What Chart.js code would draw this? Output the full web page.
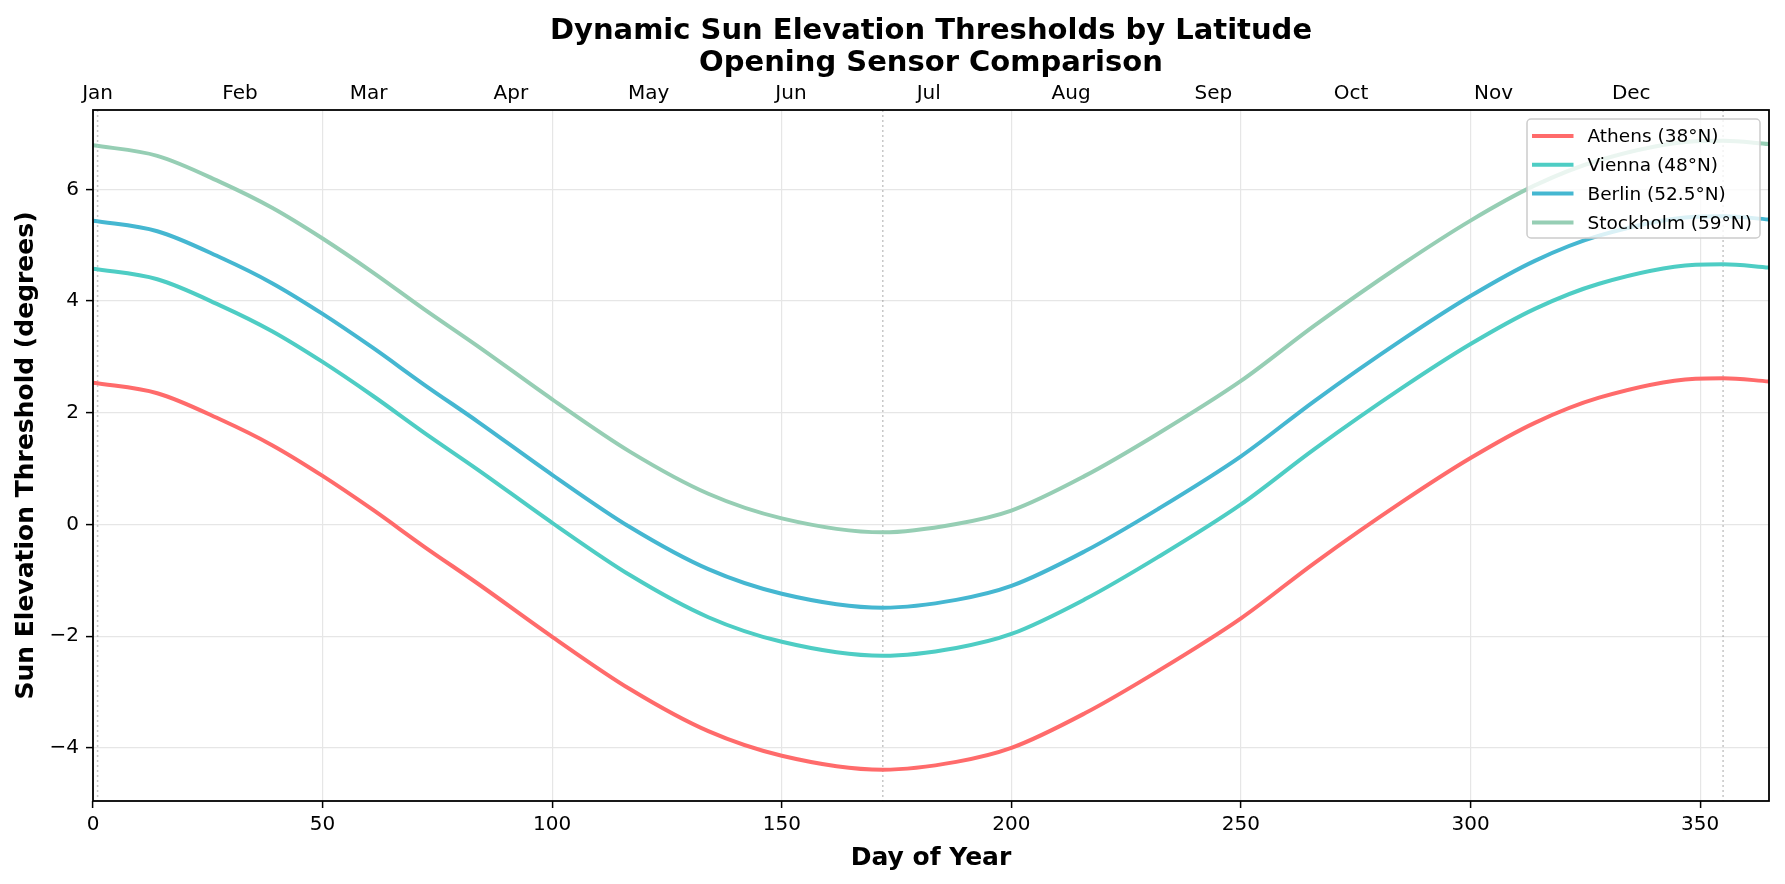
<!DOCTYPE html>
<html>
<head>
<meta charset="utf-8">
<title>Sun Elevation Thresholds</title>
<script src="https://cdn.jsdelivr.net/npm/chart.js@4.4.0/dist/chart.umd.min.js"></script>
<style>
    html, body { margin: 0; padding: 0; background: #fff; }
</style>
</head>
<body>
<canvas id="sunChart" width="1785" height="884"></canvas>
<script>
// day of year sampled from the curves
var days = [0, 14, 28, 39, 50, 61, 72, 84, 100, 117, 134, 150, 172, 188, 200, 216, 232, 250, 266, 285, 300, 314, 328, 349, 355, 365];

var athens    = [2.54, 2.35, 1.87, 1.42, 0.87, 0.26, -0.39, -1.07, -2.01, -2.95, -3.70, -4.14, -4.39, -4.25, -4.00, -3.38, -2.62, -1.68, -0.69, 0.40, 1.19, 1.82, 2.27, 2.61, 2.62, 2.56];
var vienna    = [4.58, 4.39, 3.91, 3.46, 2.91, 2.30, 1.65, 0.97, 0.03, -0.91, -1.66, -2.10, -2.35, -2.21, -1.96, -1.34, -0.58, 0.36, 1.35, 2.44, 3.23, 3.86, 4.31, 4.65, 4.66, 4.60];
var berlin    = [5.44, 5.25, 4.77, 4.32, 3.77, 3.16, 2.51, 1.83, 0.89, -0.05, -0.80, -1.24, -1.49, -1.35, -1.10, -0.48, 0.28, 1.22, 2.21, 3.30, 4.09, 4.72, 5.17, 5.51, 5.52, 5.46];
var stockholm = [6.79, 6.60, 6.12, 5.67, 5.12, 4.51, 3.86, 3.18, 2.24, 1.30, 0.55, 0.11, -0.14, 0.01, 0.25, 0.87, 1.63, 2.57, 3.56, 4.65, 5.44, 6.07, 6.52, 6.86, 6.87, 6.81];

var cityLabels = ['Athens (38°N)', 'Vienna (48°N)', 'Berlin (52.5°N)', 'Stockholm (59°N)'];
var cityColors = ['#FF6B6B', '#4ECDC4', '#45B7D1', '#96CEB4'];

// top axis
var monthDays = [1, 32, 60, 91, 121, 152, 182, 213, 244, 274, 305, 335];
var monthNames = ['Jan', 'Feb', 'Mar', 'Apr', 'May', 'Jun', 'Jul', 'Aug', 'Sep', 'Oct', 'Nov', 'Dec'];

// dotted reference lines
var markerDays = [1, 172, 355];

Chart.defaults.font.family = 'DejaVu Sans';
Chart.defaults.color = '#000';

function toPoints(values) {
    return days.map(function(d, i) { return { x: d, y: values[i] }; });
}

var series = [athens, vienna, berlin, stockholm];
var datasets = series.map(function(vals, i) {
    return {
        label: cityLabels[i],
        data: toPoints(vals),
        borderColor: cityColors[i],
        backgroundColor: cityColors[i],
        borderWidth: 4,
        pointRadius: 0,
        fill: false,
        cubicInterpolationMode: 'monotone'
    };
});

var markerPlugin = {
    id: 'markers',
    beforeDatasetsDraw: function(chart) {
        var ctx = chart.ctx, area = chart.chartArea, xs = chart.scales.x;
        ctx.save();
        ctx.strokeStyle = 'rgba(128,128,128,0.45)';
        ctx.lineWidth = 1.5;
        ctx.setLineDash([2, 3]);
        markerDays.forEach(function(d) {
            var px = xs.getPixelForValue(d);
            ctx.beginPath();
            ctx.moveTo(px, area.top);
            ctx.lineTo(px, area.bottom);
            ctx.stroke();
        });
        ctx.restore();
    }
};

function roundBox(ctx, x, y, w, h, r) {
    ctx.beginPath();
    ctx.moveTo(x + r, y);
    ctx.lineTo(x + w - r, y);
    ctx.arcTo(x + w, y, x + w, y + r, r);
    ctx.lineTo(x + w, y + h - r);
    ctx.arcTo(x + w, y + h, x + w - r, y + h, r);
    ctx.lineTo(x + r, y + h);
    ctx.arcTo(x, y + h, x, y + h - r, r);
    ctx.lineTo(x, y + r);
    ctx.arcTo(x, y, x + r, y, r);
    ctx.closePath();
}

// frame + legend box drawn over the lines
var framePlugin = {
    id: 'frameLegend',
    afterDatasetsDraw: function(chart) {
        var ctx = chart.ctx, area = chart.chartArea;
        ctx.save();
        ctx.strokeStyle = '#000';
        ctx.lineWidth = 1.8;
        ctx.strokeRect(area.left, area.top, area.right - area.left, area.bottom - area.top);

        var boxW = 233, boxH = 119;
        var bx = area.right - 9 - boxW, by = area.top + 9;
        roundBox(ctx, bx, by, boxW, boxH, 4);
        ctx.fillStyle = 'rgba(255,255,255,0.8)';
        ctx.fill();
        ctx.strokeStyle = '#cccccc';
        ctx.lineWidth = 1.5;
        ctx.stroke();

        ctx.font = '18.5px "DejaVu Sans"';
        ctx.textBaseline = 'middle';
        ctx.textAlign = 'left';
        chart.data.datasets.forEach(function(ds, i) {
            var y = by + 17 + i * 28.8;
            ctx.strokeStyle = ds.borderColor;
            ctx.lineWidth = 4;
            ctx.beginPath();
            ctx.moveTo(bx + 5, y);
            ctx.lineTo(bx + 46.5, y);
            ctx.stroke();
            ctx.fillStyle = '#000';
            ctx.fillText(ds.label, bx + 60.5, y + 1.3);
        });
        ctx.restore();
    }
};

var ctx = document.getElementById('sunChart').getContext('2d');

var sunChart = new Chart(ctx, {
    type: 'line',
    data: { datasets: datasets },
    options: {
        responsive: false,
        animation: false,
        layout: { padding: { left: 0, right: 16, top: 0, bottom: 0 } },
        plugins: {
            legend: { display: false },
            tooltip: { enabled: false },
            title: {
                display: true,
                fullSize: false,
                text: ['Dynamic Sun Elevation Thresholds by Latitude', 'Opening Sensor Comparison'],
                color: '#000',
                font: { size: 29, weight: 'bold', lineHeight: 1.1 },
                padding: { top: 15.2, bottom: 0 }
            }
        },
        scales: {
            x: {
                type: 'linear',
                position: 'bottom',
                min: 0,
                max: 365,
                afterFit: function(s) { s.height = 83; },
                ticks: {
                    stepSize: 50,
                    includeBounds: false,
                    autoSkip: false,
                    maxRotation: 0,
                    padding: 5,
                    font: { size: 20 },
                    callback: function(v) { return String(v); }
                },
                grid: {
                    color: '#e6e6e6',
                    lineWidth: 1.2,
                    tickColor: '#000',
                    tickLength: 7,
                    tickWidth: 1.5
                },
                border: { display: false },
                title: {
                    display: true,
                    text: 'Day of Year',
                    font: { size: 25, weight: 'bold' },
                    padding: { top: 0, bottom: 11 }
                }
            },
            x2: {
                type: 'linear',
                position: 'top',
                min: 0,
                max: 365,
                afterFit: function(s) { s.height = 31; },
                afterBuildTicks: function(s) {
                    s.ticks = monthDays.map(function(d) { return { value: d }; });
                },
                ticks: {
                    autoSkip: false,
                    maxRotation: 0,
                    padding: 4,
                    font: { size: 20 },
                    callback: function(v, idx) { return monthNames[idx]; }
                },
                grid: { display: false, drawTicks: false },
                border: { display: false }
            },
            y: {
                min: -4.95,
                max: 7.42,
                afterFit: function(s) { s.width = 93; },
                ticks: {
                    stepSize: 2,
                    includeBounds: false,
                    padding: 7,
                    font: { size: 20 },
                    callback: function(v) { return String(v).replace('-', '\u2212'); }
                },
                grid: {
                    color: '#e6e6e6',
                    lineWidth: 1.2,
                    tickColor: '#000',
                    tickLength: 7,
                    tickWidth: 1.5
                },
                border: { display: false },
                title: {
                    display: true,
                    text: 'Sun Elevation Threshold (degrees)',
                    font: { size: 25, weight: 'bold' },
                    padding: { top: 11.7, bottom: 0 }
                }
            }
        }
    },
    plugins: [markerPlugin, framePlugin]
});
</script>
</body>
</html>
